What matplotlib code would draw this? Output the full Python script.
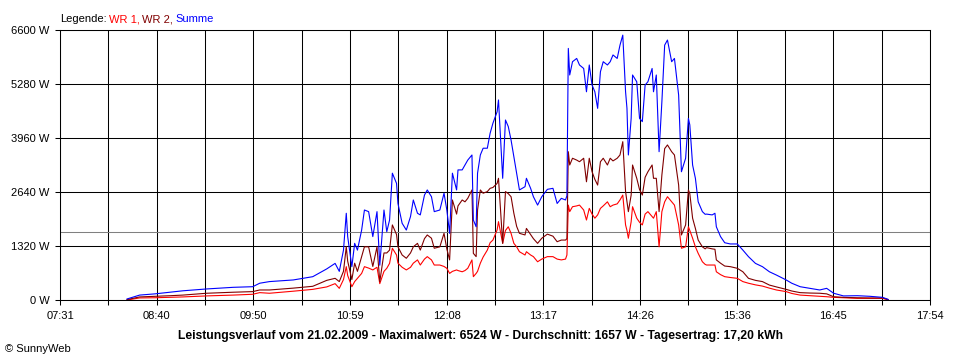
#!/usr/bin/env python3
#
import matplotlib
matplotlib.use('Agg')
import matplotlib.pyplot as plt
import numpy as np
from matplotlib.offsetbox import AnchoredOffsetbox, HPacker, TextArea

plt.rcParams.update({
  'font.family': ['Liberation Sans', 'DejaVu Sans'],
  'font.size': 8,
})

# time of day, WR 1 (W), WR 2 (W), Summe (W)
TIMES = [
  '08:19', '08:28', '08:39', '08:50', '08:59', '09:16', '09:35', '09:49', '09:54', '10:01',
  '10:18', '10:32', '10:42', '10:48', '10:51', '10:54', '10:56', '10:57', '11:00', '11:02',
  '11:04', '11:07', '11:09', '11:12', '11:15', '11:18', '11:20', '11:23', '11:25', '11:27',
  '11:29', '11:32', '11:33', '11:36', '11:39', '11:42', '11:44', '11:47', '11:49', '11:52',
  '11:54', '11:57', '11:59', '12:03', '12:06', '12:08', '12:10', '12:12', '12:15', '12:16',
  '12:19', '12:21', '12:23', '12:26', '12:27', '12:29', '12:30', '12:32', '12:34', '12:37',
  '12:39', '12:41', '12:44', '12:45', '12:48', '12:50', '12:52', '12:54', '12:56', '12:58',
  '13:00', '13:04', '13:05', '13:08', '13:10', '13:13', '13:16', '13:20', '13:24', '13:27',
  '13:30', '13:33', '13:34', '13:35', '13:36', '13:38', '13:41', '13:43', '13:46', '13:48',
  '13:50', '13:52', '13:54', '13:56', '13:58', '14:00', '14:03', '14:05', '14:07', '14:10',
  '14:12', '14:14', '14:16', '14:17', '14:18', '14:20', '14:21', '14:24', '14:26', '14:28',
  '14:30', '14:32', '14:35', '14:36', '14:38', '14:40', '14:42', '14:44', '14:46', '14:49',
  '14:51', '14:54', '14:56', '14:59', '15:01', '15:02', '15:04', '15:06', '15:08', '15:11',
  '15:13', '15:14', '15:18', '15:20', '15:21', '15:24', '15:27', '15:31', '15:36', '15:40',
  '15:44', '15:49', '15:54', '15:59', '16:04', '16:11', '16:15', '16:21', '16:28', '16:35',
  '16:40', '16:45', '16:52', '17:02', '17:11', '17:20', '17:24',
]
WR1 = [
  0, 50, 55, 65, 75, 100, 120, 140, 180, 165,
  215, 260, 320, 400, 285, 500, 815, 600, 325, 450,
  530, 650, 815, 780, 735, 800, 400, 700, 775, 895,
  1265, 1100, 900, 800, 735, 800, 900, 980, 855, 1000,
  1060, 980, 855, 855, 820, 775, 650, 700, 735, 720,
  690, 720, 775, 980, 570, 650, 700, 900, 1050, 1220,
  1400, 1465, 1710, 1915, 1385, 1700, 1790, 1630, 1385, 1300,
  1180, 1100, 1180, 1100, 1060, 935, 1000, 1060, 1060, 1000,
  980, 1000, 1100, 2320, 2160, 2280, 2300, 2320, 2200, 1955,
  2240, 2100, 2000, 2080, 2240, 2300, 2400, 2280, 2320, 2350,
  2445, 2565, 1835, 1700, 1510, 1915, 2280, 2000, 1900, 1835,
  2100, 2160, 2040, 2000, 2160, 1300, 2160, 2400, 2525, 2400,
  2320, 1835, 1265, 1300, 1790, 1700, 1510, 1300, 1140, 935,
  870, 855, 855, 855, 690, 620, 570, 550, 530, 450,
  410, 370, 340, 290, 245, 205, 160, 120, 105, 90,
  80, 65, 55, 40, 40, 40, 5,
]
WR2 = [
  10, 75, 90, 105, 120, 165, 190, 205, 245, 245,
  290, 335, 480, 530, 450, 700, 1300, 950, 500, 900,
  700, 1060, 1300, 1300, 820, 1300, 450, 1150, 1150, 1220,
  1835, 1600, 1300, 1100, 1020, 1150, 1300, 1385, 1220, 1500,
  1590, 1510, 1265, 1300, 1630, 1250, 980, 2445, 2100, 2300,
  2445, 2400, 2485, 2690, 1140, 1060, 2200, 2690, 2610, 2650,
  2730, 2750, 2850, 2975, 1385, 2650, 2600, 2525, 2120, 1800,
  1630, 1590, 1750, 1600, 1500, 1385, 1510, 1610, 1560, 1425,
  1465, 1465, 1500, 3625, 3300, 3465, 3420, 3380, 3465, 2890,
  3465, 3135, 2950, 2810, 3380, 3465, 3300, 3465, 3400, 3465,
  3545, 3870, 2650, 2400, 2160, 2565, 3300, 2975, 2700, 2565,
  3000, 3135, 3300, 2975, 2975, 2160, 3055, 3700, 3790, 3625,
  3545, 2810, 1590, 1835, 2690, 2600, 2000, 1750, 1465, 1300,
  1250, 1280, 1250, 1240, 980, 900, 830, 815, 775, 690,
  530, 480, 450, 365, 320, 260, 220, 180, 170, 165,
  150, 80, 65, 55, 50, 50, 10,
]
SUMME = [
  25, 120, 150, 190, 225, 270, 310, 325, 410, 450,
  490, 570, 760, 895, 700, 1220, 2120, 1550, 815, 1385,
  1220, 1710, 2200, 2160, 1550, 2160, 850, 2200, 1670, 1955,
  3100, 2850, 2360, 1875, 1710, 2040, 2445, 2120, 2080, 2565,
  2690, 2525, 2160, 2200, 2610, 2200, 1630, 3100, 2690, 3180,
  3180, 3300, 3420, 3545, 1955, 1790, 3100, 3545, 3710, 3710,
  4075, 4320, 4600, 4890, 2975, 4400, 4240, 3910, 3500, 3100,
  2690, 2770, 2975, 2730, 2525, 2320, 2525, 2705, 2730, 2360,
  2485, 2445, 2550, 6150, 5500, 5825, 5905, 5745, 5660, 5090,
  5745, 5255, 5090, 4685, 5580, 5825, 5745, 5825, 5990, 5905,
  6230, 6475, 5090, 4685, 3545, 4440, 5500, 5335, 4440, 4360,
  5255, 5335, 5660, 5090, 5500, 3625, 4845, 6230, 6355, 5825,
  5905, 5010, 3135, 3465, 4440, 4280, 3300, 2975, 2400, 2160,
  2095, 2100, 2080, 2120, 1790, 1550, 1400, 1370, 1370, 1220,
  1060, 895, 815, 690, 610, 490, 410, 325, 285, 245,
  285, 165, 100, 105, 90, 65, 15,
]

X_LABELS = ['07:31', '08:40', '09:50', '10:59', '12:08', '13:17', '14:26', '15:36', '16:45', '17:54']
Y_TICKS = [0, 1320, 2640, 3960, 5280, 6600]
AVERAGE = 1657
TITLE = ('Leistungsverlauf vom 21.02.2009 - Maximalwert: 6524 W - '
         'Durchschnitt: 1657 W - Tagesertrag: 17,20 kWh')


def minutes(hhmm):
  h, m = hhmm.split(':')
  return int(h) * 60 + int(m)


def main():
  t = np.array([minutes(s) for s in TIMES])
  start, end = minutes(X_LABELS[0]), minutes(X_LABELS[-1])
  major = np.linspace(start, end, len(X_LABELS))
  minor = (major[:-1] + major[1:]) / 2

  fig = plt.figure(figsize=(9.6, 3.6), dpi=100)
  ax = fig.add_axes([60/960, 1 - 300/360, 870/960, 270/360])

  ax.set_xlim(start, end)
  ax.set_ylim(0, Y_TICKS[-1])
  ax.set_xticks(major)
  ax.set_xticklabels(X_LABELS)
  ax.set_xticks(minor, minor=True)
  ax.set_yticks(Y_TICKS)
  ax.set_yticklabels([f'{v} W' for v in Y_TICKS])
  ax.tick_params(which='both', direction='out', length=3.6, width=0.75,
                 color='black', labelsize=8, pad=4)
  ax.grid(which='both', color='black', linewidth=0.75)
  ax.set_axisbelow(True)
  for sp in ax.spines.values():
    sp.set_linewidth(0.75)

  ax.axhline(AVERAGE, color='#808080', linewidth=0.75, zorder=1.5)
  ax.plot(t, WR1, color='#ff0000', linewidth=0.8, zorder=2)
  ax.plot(t, WR2, color='#800000', linewidth=0.8, zorder=2)
  ax.plot(t, SUMME, color='#0000ff', linewidth=0.8, zorder=2)

  # coloured legend line above the plot
  parts = [('Legende:', 'black'), ('WR 1,', '#ff0000'), ('WR 2,', '#800000'), ('Summe', '#0000ff')]
  boxes = [TextArea(s, textprops=dict(color=c, size=8)) for s, c in parts]
  pack = HPacker(children=boxes, align='baseline', pad=0, sep=1.6)
  legend = AnchoredOffsetbox(loc='lower left', child=pack, pad=0, borderpad=0,
                             frameon=False, bbox_to_anchor=(60/960, 1 - 24/360),
                             bbox_transform=fig.transFigure)
  fig.add_artist(legend)

  fig.text(0.5, 1 - 336.5/360, TITLE, ha='center', va='center',
           fontsize=8.7, fontweight='bold')
  fig.text(5/960, 1 - 349/360, '\u00a9 SunnyWeb', ha='left', va='center', fontsize=8)

  fig.savefig('out.png', dpi=100, facecolor='white')
  plt.close(fig)


if __name__ == '__main__':
  main()
